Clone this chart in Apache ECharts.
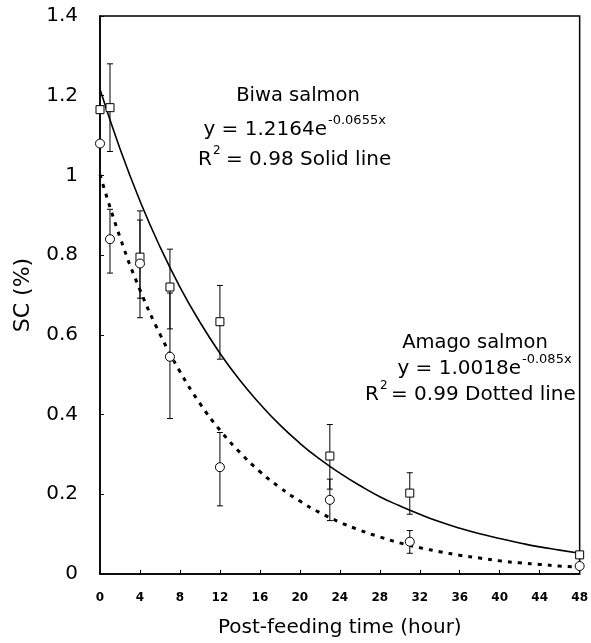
<!DOCTYPE html>
<html>
<head>
<meta charset="utf-8">
<script src="https://cdn.jsdelivr.net/npm/echarts@6/dist/echarts.min.js"></script>
<style>html,body{margin:0;padding:0;background:#fff}#c{width:591px;height:643px}</style>
</head>
<body>
<div id="c"></div>
<script>
var hours = [0, 1, 4, 7, 12, 23, 31, 48];
var biwaMean = [1.165, 1.17, 0.795, 0.72, 0.633, 0.296, 0.203, 0.048];
var biwaLow  = [null, 1.06, 0.643, 0.615, 0.539, 0.213, 0.15, null];
var biwaHigh = [null, 1.28, 0.911, 0.815, 0.724, 0.375, 0.254, null];
var amagoMean = [1.08, 0.84, 0.779, 0.545, 0.268, 0.186, 0.081, 0.02];
var amagoLow  = [null, 0.755, 0.692, 0.39, 0.171, 0.134, 0.052, null];
var amagoHigh = [null, 0.915, 0.888, 0.705, 0.355, 0.238, 0.109, null];

// Fitted curves, every 2 hours
var curveHours = [0,2,4,6,8,10,12,14,16,18,20,22,24,26,28,30,32,34,36,38,40,42,44,46,48];
var biwaCurve = [1.216,1.067,0.936,0.821,0.720,0.632,0.554,0.486,0.427,0.374,0.328,0.288,0.253,0.222,0.194,0.171,0.150,0.131,0.115,0.101,0.089,0.078,0.068,0.060,0.052];
var amagoCurve = [1.002,0.845,0.713,0.602,0.508,0.428,0.361,0.305,0.257,0.217,0.183,0.154,0.130,0.110,0.093,0.078,0.066,0.056,0.047,0.040,0.033,0.028,0.024,0.020,0.017];

var xTicks = [0,4,8,12,16,20,24,28,32,36,40,44,48];
var yTicks = [0,0.2,0.4,0.6,0.8,1,1.2,1.4];

function zip(a, b) { return a.map(function (v, i) { return [v, b[i]]; }); }
function zip3(a, b, c) {
  var out = [];
  a.forEach(function (v, i) { if (b[i] != null && c[i] != null) out.push([v, b[i], c[i]]); });
  return out;
}

function errRender(params, api) {
  var x = api.value(0), lo = api.value(1), hi = api.value(2);
  var p1 = api.coord([x, lo]), p2 = api.coord([x, hi]);
  var w = 3;
  var st = { stroke: '#000', lineWidth: 1 };
  return {
    type: 'group',
    children: [
      { type: 'line', shape: { x1: p1[0], y1: p1[1], x2: p2[0], y2: p2[1] }, style: st },
      { type: 'line', shape: { x1: p1[0] - w, y1: p1[1], x2: p1[0] + w, y2: p1[1] }, style: st },
      { type: 'line', shape: { x1: p2[0] - w, y1: p2[1], x2: p2[0] + w, y2: p2[1] }, style: st }
    ]
  };
}

var FONT = 'DejaVu Sans';
var chart = echarts.init(document.getElementById('c'));
var txt = function (x, y, s, size, align) {
  return { type: 'text', x: x, y: y, style: { text: s, fill: '#000', font: size + 'px "' + FONT + '"', textAlign: align || 'left', textVerticalAlign: 'middle' } };
};

chart.setOption({
  animation: false,
  backgroundColor: '#fff',
  grid: { left: 100, right: 5, top: 16, bottom: 69, show: true, borderColor: '#000', borderWidth: 1.5, backgroundColor: 'transparent' },
  xAxis: {
    type: 'value', min: 0, max: 48, interval: 4,
    name: 'Post-feeding time (hour)', nameLocation: 'middle', nameGap: 44,
    nameTextStyle: { fontFamily: FONT, fontSize: 20, color: '#000' },
    axisLine: { lineStyle: { color: '#000', width: 1.5 } },
    axisTick: { inside: true, length: 4, lineStyle: { color: '#000' } },
    axisLabel: { fontFamily: FONT, fontSize: 12, fontWeight: 'bold', color: '#000', margin: 18,
      formatter: function (v) { return xTicks.indexOf(v) >= 0 ? String(v) : ''; } },
    splitLine: { show: false }
  },
  yAxis: {
    type: 'value', min: 0, max: 1.4, interval: 0.2,
    name: 'SC (%)', nameLocation: 'middle', nameGap: 66, nameRotate: 90,
    nameTextStyle: { fontFamily: FONT, fontSize: 22, color: '#000' },
    axisLine: { show: true, lineStyle: { color: '#000', width: 1.5 } },
    axisTick: { show: true, inside: true, length: 4, lineStyle: { color: '#000' } },
    axisLabel: { fontFamily: FONT, fontSize: 20, color: '#000', margin: 22,
      formatter: function (v) { var r = Math.round(v * 10) / 10; return yTicks.indexOf(r) >= 0 ? String(r) : ''; } },
    splitLine: { show: false }
  },
  series: [
    { type: 'line', data: zip(curveHours, biwaCurve), smooth: true, symbol: 'none',
      lineStyle: { color: '#000', width: 1.6, type: 'solid' }, z: 2 },
    { type: 'line', data: zip(curveHours, amagoCurve), smooth: true, symbol: 'none',
      lineStyle: { color: '#000', width: 3, type: [4, 6] }, z: 2 },
    { type: 'custom', renderItem: errRender, data: zip3(hours, biwaLow, biwaHigh), encode: { x: 0, y: [1, 2] }, z: 3 },
    { type: 'custom', renderItem: errRender, data: zip3(hours, amagoLow, amagoHigh), encode: { x: 0, y: [1, 2] }, z: 3 },
    { type: 'scatter', data: zip(hours, biwaMean), symbol: 'rect', symbolSize: 8,
      itemStyle: { color: '#fff', borderColor: '#000', borderWidth: 1, opacity: 1 }, z: 4 },
    { type: 'scatter', data: zip(hours, amagoMean), symbol: 'circle', symbolSize: 9,
      itemStyle: { color: '#fff', borderColor: '#000', borderWidth: 1, opacity: 1 }, z: 4 }
  ],
  graphic: [
    txt(298, 96, 'Biwa salmon', 19.5, 'center'),
    txt(327, 130, 'y = 1.2164e', 20, 'right'),
    txt(328, 121, '-0.0655x', 13, 'left'),
    txt(198, 160, 'R', 20, 'left'),
    txt(213, 151, '2', 12, 'left'),
    txt(226, 160, '= 0.98 Solid line', 20, 'left'),
    txt(475, 343, 'Amago salmon', 19.5, 'center'),
    txt(521, 369, 'y = 1.0018e', 20, 'right'),
    txt(522, 360, '-0.085x', 13, 'left'),
    txt(365, 395, 'R', 20, 'left'),
    txt(380, 386, '2', 12, 'left'),
    txt(391, 395, '= 0.99 Dotted line', 20, 'left')
  ]
});
</script>
</body>
</html>
